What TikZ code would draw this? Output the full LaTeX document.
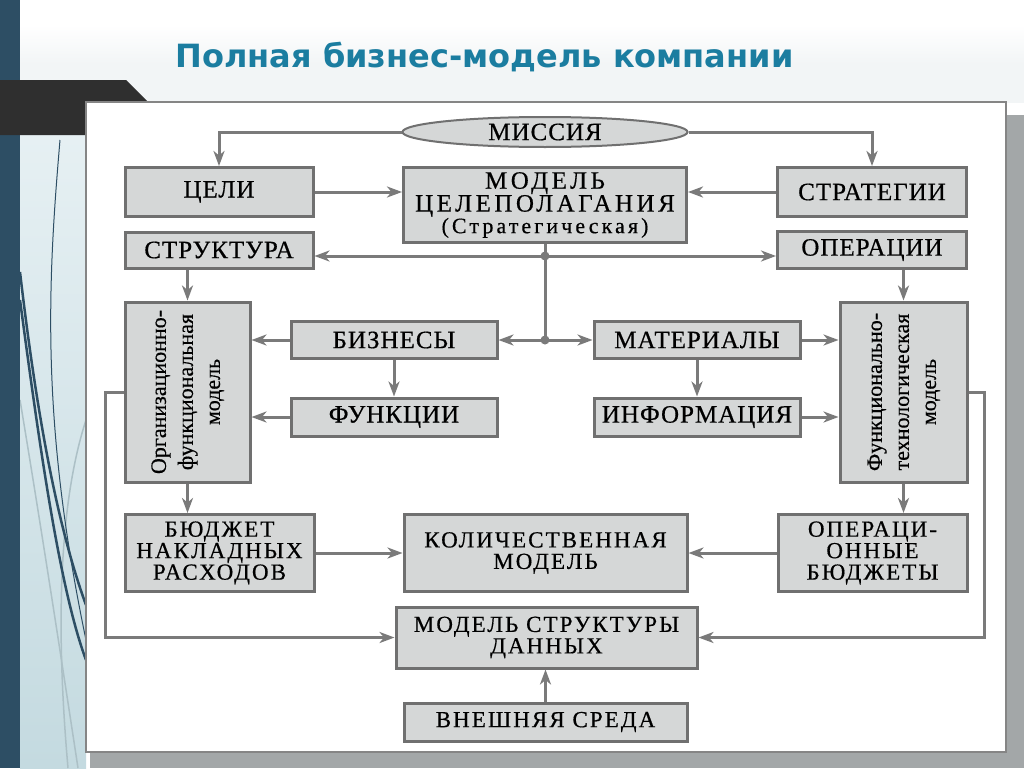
\documentclass[tikz,border=0pt]{standalone}
\usepackage{fontspec}
\usepackage{graphicx}
\setmainfont{Liberation Serif}[FakeBold=0.5]
\newfontfamily\titlefont{DejaVu Sans}
\newfontfamily\boxfont{Liberation Serif}[LetterSpace=4,FakeBold=0.5]
\newfontfamily\widefont{Liberation Serif}[LetterSpace=14,FakeBold=0.5]
\newfontfamily\lowfont{Liberation Serif}[LetterSpace=9,FakeBold=0.5]
\usetikzlibrary{shapes.geometric,arrows.meta}
\definecolor{boxfill}{RGB}{213,215,215}
\definecolor{boxline}{RGB}{112,112,112}
\definecolor{linegray}{RGB}{122,122,122}
\definecolor{titleblue}{RGB}{27,125,160}
\definecolor{stripblue}{RGB}{45,78,100}
\definecolor{barblack}{RGB}{47,47,47}
\definecolor{shadowgray}{RGB}{163,167,168}
\definecolor{framegray}{RGB}{133,133,133}
\definecolor{paleblue}{RGB}{230,240,243}
\definecolor{midblue}{RGB}{196,218,224}
\definecolor{curvegray}{RGB}{172,192,198}
\definecolor{bandgray}{RGB}{242,245,246}

\begin{document}
\begin{tikzpicture}[x=1pt,y=-1pt,
    box/.style={draw=boxline,fill=boxfill,line width=3pt,inner sep=0pt,align=center,font=\fontsize{25}{20}\boxfont},
    lowbox/.style={box,font=\fontsize{23}{21.5}\lowfont},
    turnbox/.style={box,font=\fontsize{22}{27}\selectfont},
    conn/.style={draw=linegray,line width=3pt,-{Stealth[length=15pt,width=11pt,inset=4.5pt]}},
    wire/.style={draw=linegray,line width=3pt}]
    \useasboundingbox (0,0) rectangle (1024,768);
    %background
    \fill[white] (0,0) rectangle (1024,768);
    \shade[top color=white,bottom color=bandgray,middle color=bandgray] (20,25) rectangle (1024,102);
    \shade[top color=paleblue,bottom color=midblue] (20,135) rectangle (86,768);
    \begin{scope}
      \clip (20,135) rectangle (86,768);
      \draw[curvegray,line width=1.5pt] (20,400) .. controls (40,520) and (60,650) .. (78,768);
      \draw[curvegray,line width=1.5pt] (86,420) .. controls (60,500) and (55,620) .. (68,768);
      \draw[stripblue,line width=1pt] (60,140) .. controls (48,280) and (40,420) .. (86,640);
      \draw[stripblue,line width=2.5pt] (20,272) .. controls (35,400) and (55,520) .. (86,605);
      \draw[stripblue,line width=2.5pt] (20,300) .. controls (40,450) and (60,590) .. (86,660);
    \end{scope}
    \fill[stripblue] (0,0) rectangle (20,768);
    \fill[barblack] (0,80) -- (126,80) -- (148,102) -- (148,135) -- (0,135) -- cycle;
    \fill[shadowgray] (90,115) rectangle (1024,768);
    \draw[fill=white,draw=framegray,line width=2pt] (86,102) rectangle (1006,752);
    %title
    \node[font=\fontsize{32}{38}\titlefont\bfseries,text=titleblue,anchor=base west] (title) at (172,67) {Полная бизнес-модель компании};
    %top
    \node[box,ellipse,line width=2pt,minimum width=285,minimum height=30] (mission) at (545,132) {МИССИЯ};
    \node[box,minimum width=188,minimum height=49] (goals) at (219,192) {ЦЕЛИ};
    \node[box,minimum width=188,minimum height=36] (struct) at (219,250) {СТРУКТУРА};
    \node[box,font=\fontsize{25}{20}\widefont,minimum width=283,minimum height=75] (goalmodel) at (545,205) {МОДЕЛЬ\\ЦЕЛЕПОЛАГАНИЯ\\{\fontsize{22}{20}\selectfont(Стратегическая)}};
    \node[box,minimum width=189,minimum height=49] (strat) at (872,192) {СТРАТЕГИИ};
    \node[box,minimum width=189,minimum height=37] (oper) at (872,250) {ОПЕРАЦИИ};
    %middle
    \node[turnbox,minimum width=125,minimum height=180] (orgmodel) at (187.5,392) {\rotatebox{90}{\begin{tabular}{@{}c@{}}Организационно-\\функциональная\\модель\end{tabular}}};
    \node[box,minimum width=206,minimum height=37] (busin) at (394,340) {БИЗНЕСЫ};
    \node[box,minimum width=206,minimum height=38] (func) at (394,417) {ФУНКЦИИ};
    \node[box,minimum width=206,minimum height=37] (mater) at (697,340) {МАТЕРИАЛЫ};
    \node[box,minimum width=206,minimum height=38] (info) at (697,417) {ИНФОРМАЦИЯ};
    \node[turnbox,minimum width=127,minimum height=180] (techmodel) at (903.5,392) {\rotatebox{90}{\begin{tabular}{@{}c@{}}Функционально-\\технологическая\\модель\end{tabular}}};
    %bottom
    \node[lowbox,minimum width=189,minimum height=77] (overhead) at (219.5,553) {БЮДЖЕТ\\НАКЛАДНЫХ\\РАСХОДОВ};
    \node[lowbox,minimum width=283,minimum height=77] (quant) at (545.5,553) {КОЛИЧЕСТВЕННАЯ\\МОДЕЛЬ};
    \node[lowbox,minimum width=189,minimum height=77] (opbudget) at (872.5,553) {ОПЕРАЦИ-\\ОННЫЕ\\БЮДЖЕТЫ};
    \node[lowbox,minimum width=301,minimum height=61] (datamodel) at (546.5,637.5) {МОДЕЛЬ СТРУКТУРЫ\\ДАННЫХ};
    \node[lowbox,minimum width=283,minimum height=38] (environ) at (545.5,722) {ВНЕШНЯЯ СРЕДА};
    %connectors
    \draw[conn] (mission.west) -| (goals.north);
    \draw[conn] (mission.east) -| (strat.north);
    \draw[conn] (goals.east) -- (goals.east -| goalmodel.west);
    \draw[conn] (strat.west) -- (strat.west -| goalmodel.east);
    \coordinate (j1) at (545,256);
    \coordinate (j2) at (545,340);
    \draw[wire] (goalmodel.south) -- (j2);
    \draw[conn] (j1) -- (j1 -| struct.east);
    \draw[conn] (j1) -- (j1 -| oper.west);
    \draw[conn] (j2) -- (busin.east);
    \draw[conn] (j2) -- (mater.west);
    \fill[linegray] (j1) circle (4.5pt) (j2) circle (4.5pt);
    \draw[conn] (orgmodel.north |- struct.south) -- (orgmodel.north);
    \draw[conn] (techmodel.north |- oper.south) -- (techmodel.north);
    \draw[conn] (busin.west) -- (busin.west -| orgmodel.east);
    \draw[conn] (func.west) -- (func.west -| orgmodel.east);
    \draw[conn] (busin.south) -- (func.north);
    \draw[conn] (mater.east) -- (mater.east -| techmodel.west);
    \draw[conn] (info.east) -- (info.east -| techmodel.west);
    \draw[conn] (mater.south) -- (info.north);
    \draw[conn] (orgmodel.south) -- (orgmodel.south |- overhead.north);
    \draw[conn] (techmodel.south) -- (techmodel.south |- opbudget.north);
    \draw[conn] (overhead.east) -- (overhead.east -| quant.west);
    \draw[conn] (opbudget.west) -- (opbudget.west -| quant.east);
    \draw[conn] (orgmodel.west) -- ++(-18,0) |- (datamodel.west);
    \draw[conn] (techmodel.east) -- ++(16,0) |- (datamodel.east);
    \draw[conn] (environ.north) -- (environ.north |- datamodel.south);
  \end{tikzpicture}
\end{document}
